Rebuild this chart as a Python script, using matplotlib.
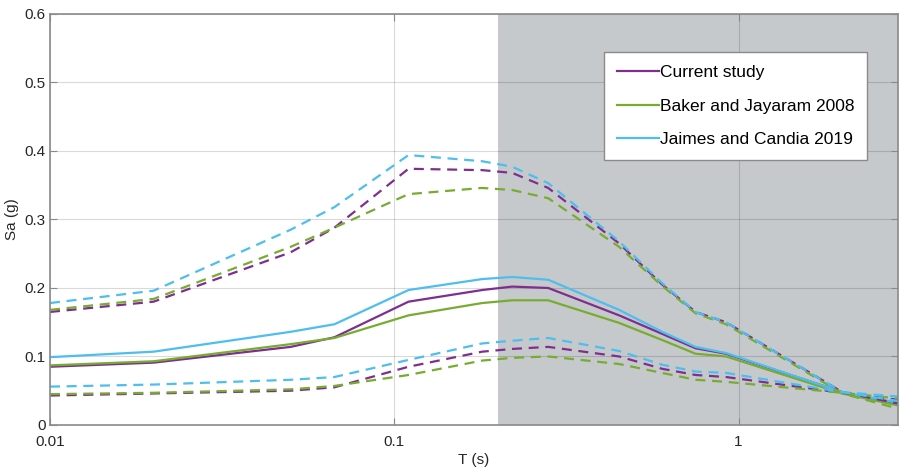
import matplotlib
matplotlib.use("Agg")
import matplotlib.pyplot as plt

# spectral periods (s)
periods = [0.01, 0.02, 0.05, 0.067, 0.11, 0.18, 0.22, 0.28, 0.45, 0.6, 0.75, 0.92, 2.0, 3.0]

# median spectra
current_med = [0.085, 0.091, 0.114, 0.128, 0.180, 0.197, 0.202, 0.200, 0.160, 0.133, 0.112, 0.104, 0.048, 0.028]
baker_med = [0.087, 0.093, 0.118, 0.127, 0.160, 0.178, 0.182, 0.182, 0.149, 0.124, 0.104, 0.100, 0.046, 0.027]
jaimes_med = [0.099, 0.107, 0.136, 0.147, 0.197, 0.213, 0.216, 0.212, 0.168, 0.136, 0.114, 0.105, 0.048, 0.031]

# +1 sigma
current_hi = [0.165, 0.180, 0.252, 0.288, 0.374, 0.372, 0.368, 0.346, 0.265, 0.205, 0.165, 0.150, 0.048, 0.030]
baker_hi = [0.168, 0.184, 0.260, 0.288, 0.337, 0.346, 0.343, 0.331, 0.260, 0.203, 0.163, 0.147, 0.046, 0.022]
jaimes_hi = [0.178, 0.196, 0.285, 0.318, 0.394, 0.385, 0.377, 0.353, 0.268, 0.207, 0.165, 0.150, 0.048, 0.034]

# -1 sigma
current_lo = [0.043, 0.046, 0.050, 0.055, 0.085, 0.107, 0.111, 0.114, 0.100, 0.082, 0.073, 0.070, 0.047, 0.036]
baker_lo = [0.045, 0.047, 0.052, 0.057, 0.073, 0.094, 0.098, 0.100, 0.089, 0.076, 0.066, 0.063, 0.047, 0.038]
jaimes_lo = [0.056, 0.059, 0.066, 0.070, 0.095, 0.119, 0.123, 0.127, 0.108, 0.088, 0.078, 0.076, 0.048, 0.041]

c_purple = "#7E2F8E"
c_green = "#77AC30"
c_cyan = "#4DBEEE"

plt.rcParams['font.family'] = ['Liberation Sans', 'DejaVu Sans']
plt.rcParams['font.size'] = 11

fig = plt.figure(figsize=(8.99, 4.71), dpi=100)
ax = fig.add_axes([0.0556, 0.0977, 0.943, 0.8727])

# shaded period range
ax.axvspan(0.2, 3.0, color="#c6c9cc", zorder=1, lw=0)

lw = 1.6
ax.plot(periods, current_med, color=c_purple, lw=lw, label="Current study")
ax.plot(periods, baker_med, color=c_green, lw=lw, label="Baker and Jayaram 2008")
ax.plot(periods, jaimes_med, color=c_cyan, lw=lw, label="Jaimes and Candia 2019")

dash = (0, (4.5, 3))
for hi, lo, col in [(current_hi, current_lo, c_purple),
                    (baker_hi, baker_lo, c_green),
                    (jaimes_hi, jaimes_lo, c_cyan)]:
    ax.plot(periods, hi, color=col, lw=lw, ls=dash)
    ax.plot(periods, lo, color=col, lw=lw, ls=dash)

ax.set_xscale("log")
ax.set_xlim(0.01, 2.9)
ax.set_ylim(0, 0.6)
ax.set_xticks([0.01, 0.1, 1])
ax.set_xticklabels(["0.01", "0.1", "1"])
ax.xaxis.set_minor_locator(matplotlib.ticker.NullLocator())
ax.set_yticks([0, 0.1, 0.2, 0.3, 0.4, 0.5, 0.6])
ax.set_yticklabels(["0", "0.1", "0.2", "0.3", "0.4", "0.5", "0.6"])

ax.grid(True, color="k", alpha=0.15, lw=0.8)
ax.tick_params(direction="in", top=True, right=True, colors="#8a8a8a",
               labelcolor="#262626", labelsize=11, length=5)
ax.tick_params(axis="x", pad=7)
ax.tick_params(axis="y", pad=3)
for s in ax.spines.values():
    s.set_color("#8a8a8a")
    s.set_linewidth(1.2)

ax.set_xlabel("T (s)", color="#262626", fontsize=11, labelpad=3)
ax.set_ylabel("Sa (g)", color="#262626", fontsize=11, labelpad=4)

leg = ax.legend(loc="upper left", bbox_to_anchor=(0.654, 0.907), fontsize=12.5,
                fancybox=False, framealpha=1, edgecolor="#8a8a8a",
                handlelength=2.4, handletextpad=0.05, borderpad=0.75,
                borderaxespad=0, labelspacing=1.05)
leg.get_frame().set_linewidth(1.0)

fig.savefig("out.png", dpi=100)
